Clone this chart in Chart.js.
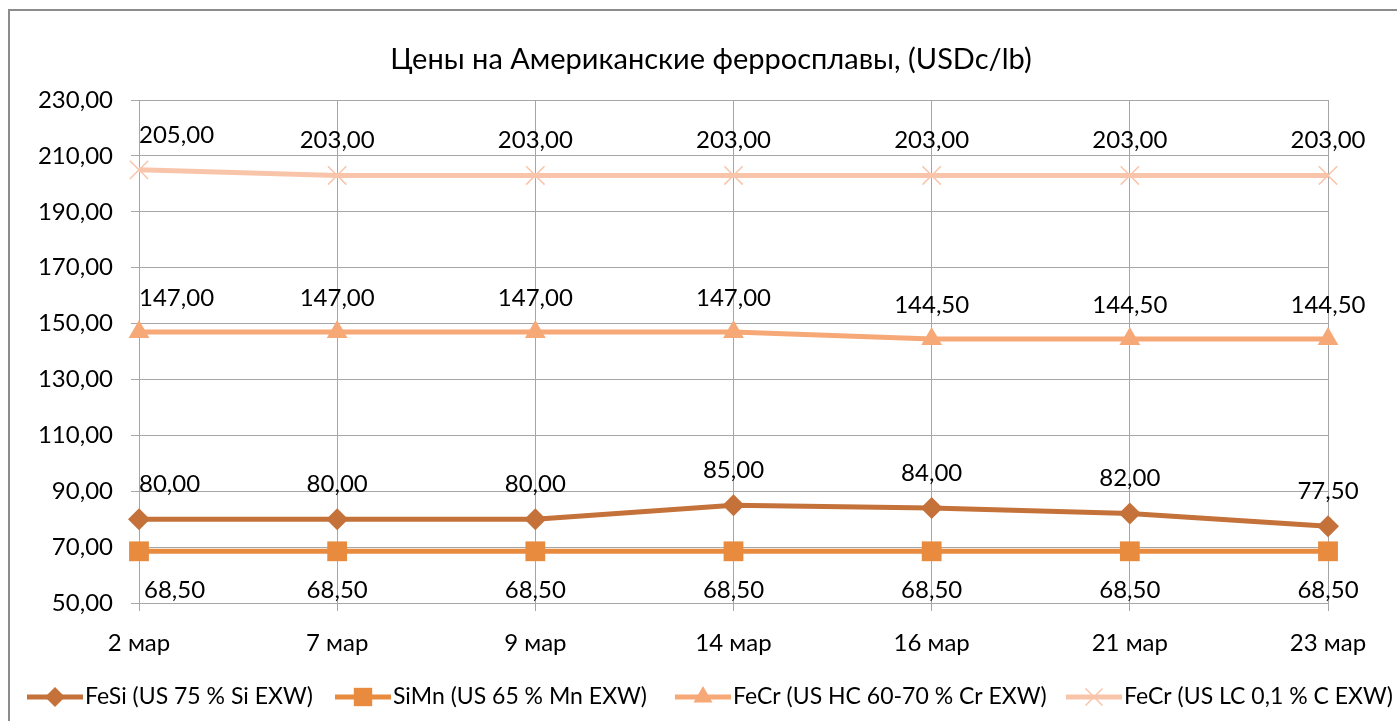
<!DOCTYPE html>
<html>
<head>
<meta charset="utf-8">
<script src="https://cdn.jsdelivr.net/npm/chart.js@4.4.1/dist/chart.umd.min.js"></script>
<style>
    html, body { margin: 0; padding: 0; background: #fff; }
    #wrap { width: 1397px; height: 721px; }
</style>
</head>
<body>
<div id="wrap"><canvas id="priceChart" width="1397" height="721"></canvas></div>
<script>
const dates = ['2 мар', '7 мар', '9 мар', '14 мар', '16 мар', '21 мар', '23 мар'];
const fesi = [80, 80, 80, 85, 84, 82, 77.5];
const simn = [68.5, 68.5, 68.5, 68.5, 68.5, 68.5, 68.5];
const fecrHC = [147, 147, 147, 147, 144.5, 144.5, 144.5];
const fecrLC = [205, 203, 203, 203, 203, 203, 203];
const seriesNames = [
    'FeSi (US 75 % Si EXW)',
    'SiMn (US 65 % Mn EXW)',
    'FeCr (US HC 60-70 % Cr EXW)',
    'FeCr (US LC 0,1 % C EXW)'
];
const yTicksMin = 50;
const yTicksMax = 230;
const yStep = 20;

const FONT = 'Lato, "Open Sans", sans-serif';
const fmt = v => v.toFixed(2).replace('.', ',');

// label placement per series: offset from point (negative = above)
const labelOffsets = [-35, 39, -34, -35];
// where each legend text starts (line + marker sit just left of it)
const legendTextX = [85, 393, 733, 1124];
const legendY = 697;

const colors = ['#C4713A', '#E88B3F', '#F6A877', '#F8C5AB'];
const styles = ['rectRot', 'rect', 'triangle', 'crossRot'];
const radii = [11, 14, 12, 13];
const seriesData = [fesi, simn, fecrHC, fecrLC];

const datalabelPlugin = {
    id: 'valueLabels',
    afterDatasetsDraw(chart) {
        const ctx = chart.ctx;
        const area = chart.chartArea;
        ctx.save();
        ctx.font = '24px ' + FONT;
        ctx.fillStyle = '#000';
        ctx.textBaseline = 'middle';
        ctx.textAlign = 'left';
        chart.data.datasets.forEach((ds, i) => {
            const meta = chart.getDatasetMeta(i);
            meta.data.forEach((pt, j) => {
                const text = fmt(ds.data[j]);
                const w = ctx.measureText(text).width;
                let x = pt.x - w / 2;
                if (x < area.left) x = area.left + (i === 1 ? 5 : 0);
                ctx.fillText(text, x, pt.y + labelOffsets[i]);
            });
        });
        ctx.restore();
    }
};

const framePlugin = {
    id: 'frame',
    beforeDraw(chart) {
        const ctx = chart.ctx;
        ctx.save();
        ctx.fillStyle = '#fff';
        ctx.fillRect(0, 0, chart.width, chart.height);
        ctx.strokeStyle = '#8c8c8c';
        ctx.lineWidth = 2;
        ctx.beginPath();
        ctx.moveTo(9, chart.height + 2);
        ctx.lineTo(9, 10);
        ctx.lineTo(chart.width + 2, 10);
        ctx.stroke();
        ctx.font = '29px ' + FONT;
        ctx.fillStyle = '#000';
        ctx.textAlign = 'center';
        ctx.textBaseline = 'middle';
        ctx.fillText('Цены на Американские ферросплавы, (USDc/lb)', 711, 60);
        ctx.restore();
    },
    afterDraw(chart) {
        const ctx = chart.ctx;
        ctx.save();
        ctx.font = '23px ' + FONT;
        ctx.textBaseline = 'middle';
        ctx.textAlign = 'left';
        chart.data.datasets.forEach((ds, i) => {
            const x0 = legendTextX[i] - 58;
            ctx.strokeStyle = colors[i];
            ctx.lineWidth = 5;
            ctx.beginPath();
            ctx.moveTo(x0, legendY);
            ctx.lineTo(x0 + 56, legendY);
            ctx.stroke();
            ctx.fillStyle = colors[i];
            ctx.lineWidth = 1.5;
            Chart.helpers.drawPoint(ctx, {
                pointStyle: styles[i], radius: radii[i] - 1, borderWidth: i === 3 ? 1.5 : 0
            }, x0 + 28, legendY);
            ctx.fillStyle = '#000';
            ctx.fillText(ds.label, legendTextX[i], legendY);
        });
        ctx.restore();
    }
};

const datasets = seriesData.map((d, i) => ({
    label: seriesNames[i],
    data: d,
    borderColor: colors[i],
    backgroundColor: colors[i],
    borderWidth: 5,
    tension: 0,
    pointStyle: styles[i],
    pointRadius: radii[i],
    pointHoverRadius: radii[i],
    pointBorderWidth: i === 3 ? 1.5 : 0,
    pointBackgroundColor: colors[i],
    pointBorderColor: colors[i],
    clip: false
}));

new Chart(document.getElementById('priceChart'), {
    type: 'line',
    data: { labels: dates, datasets: datasets },
    options: {
        responsive: false,
        animation: false,
        devicePixelRatio: 1,
        layout: { padding: { top: 100, left: 0, right: 69, bottom: 58 } },
        plugins: {
            title: { display: false },
            tooltip: { enabled: false },
            legend: { display: false }
        },
        scales: {
            x: {
                offset: false,
                grid: { color: '#A6A6A6', lineWidth: 1, tickLength: 8 },
                border: { color: '#A6A6A6', width: 1 },
                ticks: {
                    font: { family: FONT, size: 24 },
                    color: '#000',
                    padding: 18,
                    maxRotation: 0,
                    autoSkip: false
                },
                afterFit: scale => { scale.height = 60; }
            },
            y: {
                min: yTicksMin,
                max: yTicksMax,
                grid: { color: '#A6A6A6', lineWidth: 1, tickLength: 8 },
                border: { color: '#A6A6A6', width: 1 },
                ticks: {
                    stepSize: yStep,
                    font: { family: FONT, size: 24 },
                    color: '#000',
                    padding: 18,
                    callback: v => fmt(v)
                },
                afterFit: scale => { scale.width = 139; }
            }
        }
    },
    plugins: [framePlugin, datalabelPlugin]
});
</script>
</body>
</html>
